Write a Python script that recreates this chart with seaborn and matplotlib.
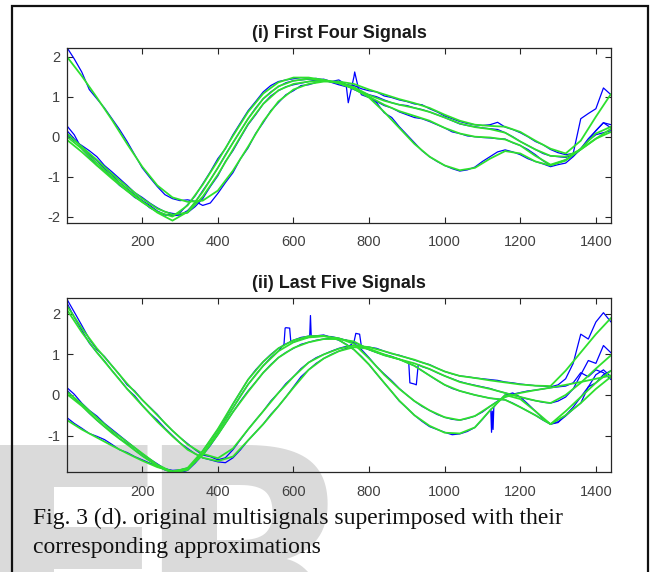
import matplotlib
matplotlib.use("Agg")
import matplotlib.pyplot as plt
import seaborn as sns
import pandas as pd
from matplotlib.patches import Rectangle

# ---------------- data ----------------
X_BLUE = [1] + list(range(20, 1441, 20))      # sample positions of the noisy signals
X_GREEN = [1] + list(range(40, 1441, 40))     # sample positions of the approximations
XTICKS = [200, 400, 600, 800, 1000, 1200, 1400]
TOP_YTICKS = [-2, -1, 0, 1, 2]
BOT_YTICKS = [-1, 0, 1, 2]
TOP_TITLE = "(i) First Four Signals"
BOT_TITLE = "(ii) Last Five Signals"
CAPTION_1 = "Fig. 3 (d). original multisignals superimposed with their"
CAPTION_2 = "corresponding approximations"
WATERMARK_1 = "E"
WATERMARK_2 = "R"

# ---- first four signals (blue, original) ----
top_sig_a = [2.23, 1.95, 1.62, 1.18, 0.95, 0.72, 0.45, 0.18, -0.12, -0.45,
             -0.78, -1.02, -1.25, -1.45, -1.55, -1.6, -1.58, -1.62, -1.72, -1.66,
             -1.42, -1.15, -0.9, -0.55, -0.28, 0.08, 0.35, 0.65, 0.85, 1.05,
             1.15, 1.28, 1.3, 1.36, 1.4, 1.38, 1.42, 1.3, 1.28, 1.2,
             1.15, 1.12, 1.02, 0.98, 0.92, 0.88, 0.82, 0.8, 0.7, 0.62,
             0.52, 0.45, 0.38, 0.33, 0.3, 0.28, 0.3, 0.36, 0.24, 0.18,
             0.1, 0.0, -0.12, -0.2, -0.32, -0.4, -0.45, -0.42, 0.45, 0.58,
             0.7, 1.22, 1.05]
top_sig_b = [0.27, 0.05, -0.3, -0.5, -0.72, -0.85, -1.02, -1.22, -1.35, -1.52,
             -1.62, -1.78, -1.88, -1.96, -1.95, -1.9, -1.7, -1.48, -1.18, -0.88,
             -0.55, -0.3, 0.05, 0.35, 0.65, 0.88, 1.12, 1.28, 1.38, 1.42,
             1.45, 1.48, 1.46, 1.42, 1.44, 1.38, 1.32, 1.28, 1.18, 1.1,
             1.0, 0.85, 0.6, 0.48, 0.25, 0.05, -0.15, -0.35, -0.5, -0.62,
             -0.72, -0.8, -0.86, -0.83, -0.76, -0.62, -0.5, -0.38, -0.33, -0.38,
             -0.45, -0.55, -0.62, -0.68, -0.75, -0.7, -0.66, -0.5, -0.3, -0.05,
             0.15, 0.35, 0.22]
top_sig_c = [0.15, -0.05, -0.25, -0.45, -0.6, -0.8, -0.95, -1.15, -1.3, -1.45,
             -1.6, -1.72, -1.86, -1.95, -1.98, -1.96, -1.85, -1.65, -1.35, -1.08,
             -0.78, -0.45, -0.15, 0.15, 0.45, 0.72, 0.95, 1.12, 1.25, 1.35,
             1.4, 1.42, 1.44, 1.46, 1.42, 1.36, 1.3, 1.25, 1.5, 1.05,
             0.98, 0.88, 0.78, 0.72, 0.62, 0.55, 0.48, 0.45, 0.38, 0.3,
             0.22, 0.12, 0.08, 0.02, 0.0, -0.02, -0.03, -0.05, -0.06, -0.15,
             -0.22, -0.32, -0.45, -0.6, -0.72, -0.65, -0.58, -0.48, -0.32, -0.1,
             0.05, 0.1, 0.15]
top_sig_d = [0.05, -0.1, -0.22, -0.35, -0.5, -0.72, -0.88, -1.05, -1.22, -1.4,
             -1.52, -1.66, -1.78, -1.88, -1.92, -1.95, -1.9, -1.75, -1.55, -1.25,
             -0.98, -0.62, -0.35, -0.02, 0.3, 0.55, 0.82, 1.02, 1.15, 1.25,
             1.3, 1.34, 1.38, 1.42, 1.4, 1.38, 1.36, 1.3, 1.24, 1.12,
             1.05, 1.0, 0.92, 0.85, 0.8, 0.78, 0.72, 0.68, 0.62, 0.55,
             0.48, 0.4, 0.32, 0.28, 0.25, 0.22, 0.2, 0.18, 0.1, 0.0,
             -0.12, -0.22, -0.32, -0.42, -0.48, -0.5, -0.52, -0.45, -0.3, -0.1,
             0.15, 0.35, 0.3]
# short glitches that fall between the regular samples
top_glitch_c_x = [745, 762, 772]
top_glitch_c_y = [0.85, 1.62, 1.2]

# ---- first four signals (green, approximations) ----
top_apx_a = [2.0, 1.52, 0.98, 0.42, -0.18, -0.75, -1.22, -1.52, -1.63, -1.6,
             -1.35, -0.85, -0.25, 0.38, 0.88, 1.18, 1.32, 1.38, 1.38, 1.32,
             1.18, 1.06, 0.94, 0.84, 0.72, 0.55, 0.4, 0.3, 0.27, 0.25,
             0.12, -0.1, -0.3, -0.42, -0.1, 0.5, 1.07]
top_apx_b = [-0.08, -0.38, -0.72, -1.05, -1.36, -1.64, -1.88, -2.0, -1.72, -1.2,
             -0.6, 0.02, 0.62, 1.08, 1.36, 1.48, 1.48, 1.42, 1.34, 1.2,
             0.98, 0.62, 0.22, -0.18, -0.5, -0.72, -0.84, -0.78, -0.55, -0.36,
             -0.42, -0.62, -0.72, -0.6, -0.3, 0.08, 0.25]
top_apx_c = [0.0, -0.3, -0.66, -1.0, -1.32, -1.62, -1.9, -2.1, -1.88, -1.38,
             -0.78, -0.15, 0.45, 0.95, 1.26, 1.4, 1.45, 1.42, 1.34, 1.2,
             1.0, 0.8, 0.64, 0.52, 0.4, 0.22, 0.08, 0.0, -0.02, -0.07,
             -0.22, -0.48, -0.7, -0.58, -0.32, -0.05, 0.12]
top_apx_d = [0.08, -0.25, -0.58, -0.93, -1.25, -1.55, -1.8, -1.95, -1.9, -1.5,
             -0.95, -0.32, 0.32, 0.82, 1.16, 1.32, 1.38, 1.4, 1.36, 1.24,
             1.04, 0.9, 0.8, 0.72, 0.62, 0.48, 0.33, 0.24, 0.19, 0.1,
             -0.12, -0.32, -0.48, -0.5, -0.32, -0.05, 0.2]

# ---- last five signals (blue, original) ----
bot_sig_e = [2.36, 2.05, 1.72, 1.38, 1.12, 0.95, 0.72, 0.5, 0.25, 0.1,
             -0.12, -0.3, -0.48, -0.7, -0.88, -1.05, -1.2, -1.35, -1.48, -1.52,
             -1.6, -1.55, -1.35, -1.1, -0.85, -0.62, -0.4, -0.15, 0.05, 0.28,
             0.45, 0.65, 0.8, 0.92, 1.0, 1.08, 1.15, 1.2, 1.22, 1.2,
             1.18, 1.15, 1.08, 1.02, 0.98, 0.92, 0.86, 0.8, 0.75, 0.66,
             0.58, 0.52, 0.47, 0.45, 0.42, 0.4, 0.38, 0.36, 0.32, 0.3,
             0.27, 0.25, 0.23, 0.22, 0.2, 0.25, 0.4, 0.78, 1.5, 1.38,
             1.8, 2.03, 1.8]
bot_sig_f = [2.27, 1.92, 1.6, 1.28, 1.05, 0.84, 0.6, 0.38, 0.15, -0.02,
             -0.25, -0.45, -0.62, -0.82, -1.0, -1.18, -1.32, -1.45, -1.55, -1.6,
             -1.65, -1.67, -1.55, -1.35, -1.12, -0.92, -0.72, -0.48, -0.28, -0.05,
             0.2, 0.45, 0.62, 0.78, 0.9, 1.0, 1.08, 1.15, 1.3, 1.18,
             1.12, 1.05, 1.0, 0.95, 0.88, 0.82, 0.27, 0.7, 0.64, 0.55,
             0.47, 0.4, 0.33, 0.28, 0.24, 0.2, 0.16, 0.1, 0.05, 0.0,
             -0.05, -0.1, -0.14, -0.18, -0.2, -0.15, -0.05, 0.15, 0.5, 0.85,
             0.78, 1.22, 1.04]
bot_sig_g = [0.18, 0.02, -0.2, -0.38, -0.52, -0.7, -0.85, -1.0, -1.15, -1.3,
             -1.45, -1.58, -1.7, -1.82, -1.88, -1.9, -1.82, -1.62, -1.38, -1.12,
             -0.85, -0.55, -0.22, 0.08, 0.38, 0.62, 0.82, 1.0, 1.15, 1.26,
             1.35, 1.42, 1.45, 1.46, 1.48, 1.42, 1.35, 1.25, 1.12, 0.95,
             0.75, 0.52, 0.3, 0.08, -0.15, -0.32, -0.5, -0.65, -0.78, -0.85,
             -0.92, -0.98, -0.96, -0.9, -0.8, -0.6, -0.38, -0.18, 0.0, 0.05,
             -0.05, -0.22, -0.4, -0.58, -0.72, -0.68, -0.5, -0.3, -0.05, 0.2,
             0.5, 0.62, 0.45]
bot_sig_h = [0.12, -0.08, -0.25, -0.45, -0.62, -0.78, -0.92, -1.08, -1.2, -1.36,
             -1.5, -1.62, -1.75, -1.85, -1.9, -1.92, -1.86, -1.68, -1.46, -1.2,
             -0.92, -0.62, -0.32, -0.02, 0.26, 0.5, 0.72, 0.92, 1.08, 1.66,
             1.3, 1.38, 1.42, 1.44, 1.45, 1.44, 1.4, 1.35, 1.28, 1.12,
             0.92, 0.7, 0.52, 0.35, 0.16, 0.0, -0.15, -0.28, -0.38, -0.48,
             -0.55, -0.6, -0.62, -0.58, -0.52, -0.42, -0.28, -0.15, -0.05, 0.02,
             0.06, 0.1, 0.12, 0.15, 0.18, 0.2, 0.22, 0.3, 0.55, 0.45,
             0.62, 0.55, 0.38]
bot_sig_i = [-0.56, -0.7, -0.82, -0.95, -1.02, -1.1, -1.22, -1.35, -1.42, -1.52,
             -1.6, -1.68, -1.76, -1.82, -1.86, -1.85, -1.8, -1.66, -1.48, -1.25,
             -0.98, -0.7, -0.42, -0.15, 0.1, 0.32, 0.55, 0.75, 0.92, 1.05,
             1.15, 1.25, 1.3, 1.35, 1.38, 1.4, 1.38, 1.35, 1.3, 1.22,
             1.12, 1.05, 0.98, 0.93, 0.88, 0.8, 0.72, 0.6, 0.48, 0.36,
             0.25, 0.16, 0.1, 0.05, 0.0, -0.04, -0.08, -0.1, -0.12, -0.2,
             -0.3, -0.4, -0.5, -0.62, -0.72, -0.66, -0.52, -0.35, -0.2, 0.2,
             0.3, 0.5, 0.6]
bot_glitch_f_x = [765, 775, 905, 908, 925, 930]
bot_glitch_f_y = [1.52, 1.5, 0.8, 0.3, 0.25, 0.75]
bot_glitch_g_x = [643, 645, 647, 1122, 1124, 1126, 1128, 1130]
bot_glitch_g_y = [1.45, 1.96, 1.45, -0.35, -0.92, -0.4, -0.85, -0.3]
bot_glitch_h_x = [575, 578, 590, 593]
bot_glitch_h_y = [1.25, 1.65, 1.65, 1.32]

# ---- last five signals (green, approximations) ----
bot_apx_e = [2.2, 1.65, 1.15, 0.72, 0.28, -0.12, -0.5, -0.88, -1.22, -1.45,
             -1.56, -1.32, -0.85, -0.4, 0.05, 0.45, 0.8, 1.0, 1.14, 1.22,
             1.18, 1.08, 0.97, 0.87, 0.74, 0.58, 0.47, 0.42, 0.36, 0.31,
             0.26, 0.23, 0.22, 0.6, 1.05, 1.5, 1.9]
bot_apx_f = [2.1, 1.55, 1.05, 0.6, 0.15, -0.26, -0.66, -1.02, -1.35, -1.55,
             -1.63, -1.52, -1.12, -0.72, -0.28, 0.18, 0.62, 0.9, 1.08, 1.18,
             1.14, 1.0, 0.88, 0.78, 0.64, 0.47, 0.32, 0.23, 0.15, 0.05,
             -0.05, -0.14, -0.2, 0.0, 0.3, 0.65, 0.98]
bot_apx_g = [0.08, -0.22, -0.56, -0.88, -1.16, -1.44, -1.72, -1.9, -1.8, -1.38,
             -0.84, -0.22, 0.38, 0.82, 1.15, 1.35, 1.45, 1.46, 1.36, 1.12,
             0.75, 0.3, -0.14, -0.5, -0.76, -0.93, -0.95, -0.8, -0.38, 0.0,
             -0.1, -0.4, -0.72, -0.4, -0.05, 0.3, 0.6]
bot_apx_h = [0.02, -0.27, -0.62, -0.94, -1.22, -1.5, -1.76, -1.92, -1.85, -1.45,
             -0.92, -0.32, 0.26, 0.72, 1.08, 1.3, 1.42, 1.45, 1.4, 1.26,
             0.9, 0.5, 0.15, -0.15, -0.38, -0.55, -0.62, -0.52, -0.28, -0.05,
             0.05, 0.12, 0.18, 0.25, 0.32, 0.4, 0.48]
bot_apx_i = [-0.62, -0.85, -1.05, -1.25, -1.44, -1.62, -1.78, -1.88, -1.82, -1.48,
             -0.98, -0.42, 0.08, 0.55, 0.92, 1.16, 1.3, 1.38, 1.38, 1.32,
             1.12, 0.98, 0.88, 0.72, 0.48, 0.25, 0.1, 0.0, -0.08, -0.12,
             -0.3, -0.5, -0.72, -0.5, -0.2, 0.15, 0.45]

# ---------------- styling ----------------
BLUE = "#0000ff"
GREEN = "#2ee02e"
SANS = "Liberation Sans"
SERIF = "Liberation Serif"

sns.set_style("ticks")
plt.rcParams["font.family"] = [SANS, "DejaVu Sans"]

W, H = 653, 572
fig = plt.figure(figsize=(W / 100, H / 100), dpi=100)
fig.patch.set_facecolor("white")


def series_frame(xs, ys, gx=None, gy=None):
    xx = list(xs) + (list(gx) if gx else [])
    yy = list(ys) + (list(gy) if gy else [])
    return pd.DataFrame({"x": xx, "y": yy}).sort_values("x")


def draw_panel(ax, blues, greens, title, yticks, ylim):
    for ys, gx, gy in blues:
        assert len(ys) == len(X_BLUE)
        d = series_frame(X_BLUE, ys, gx, gy)
        sns.lineplot(data=d, x="x", y="y", ax=ax, color=BLUE, lw=0.9,
                     estimator=None, sort=False, legend=False)
    for ys in greens:
        assert len(ys) == len(X_GREEN)
        d = series_frame(X_GREEN, ys)
        sns.lineplot(data=d, x="x", y="y", ax=ax, color=GREEN, lw=1.3,
                     estimator=None, sort=False, legend=False)
    ax.set_xlim(1, 1440)
    ax.set_ylim(*ylim)
    ax.set_xticks(XTICKS)
    ax.set_yticks(yticks)
    ax.set_xticklabels([str(t) for t in XTICKS])
    ax.set_yticklabels([str(t) for t in yticks])
    ax.set_xlabel("")
    ax.set_ylabel("")
    ax.set_facecolor("none")
    for s in ax.spines.values():
        s.set_visible(True)
        s.set_color("#262626")
        s.set_linewidth(0.9)
    ax.tick_params(axis="both", direction="in", top=True, right=True,
                   length=4, width=0.8, color="#262626",
                   labelsize=10.5, labelcolor="#404040")
    ax.tick_params(axis="x", pad=9)
    ax.tick_params(axis="y", pad=5)
    ax.set_title(title, fontsize=13, fontweight="bold", color="#1a1a1a",
                 pad=7, family=SANS)


ax1 = fig.add_axes([67 / W, 1 - 223 / H, 544 / W, 175 / H])
ax2 = fig.add_axes([67 / W, 1 - 472 / H, 544 / W, 174.3 / H])

draw_panel(ax1,
           [(top_sig_a, None, None), (top_sig_b, None, None),
            (top_sig_c, top_glitch_c_x, top_glitch_c_y), (top_sig_d, None, None)],
           [top_apx_a, top_apx_b, top_apx_c, top_apx_d],
           TOP_TITLE, TOP_YTICKS, (-2.16, 2.22))
draw_panel(ax2,
           [(bot_sig_e, None, None), (bot_sig_f, bot_glitch_f_x, bot_glitch_f_y),
            (bot_sig_g, bot_glitch_g_x, bot_glitch_g_y),
            (bot_sig_h, bot_glitch_h_x, bot_glitch_h_y), (bot_sig_i, None, None)],
           [bot_apx_e, bot_apx_f, bot_apx_g, bot_apx_h, bot_apx_i],
           BOT_TITLE, BOT_YTICKS, (-1.9, 2.4))

# faint watermark letters behind everything (cropped by the picture edge)
WM = dict(fontsize=211, fontweight="bold", color="#dadada", family="DejaVu Sans",
          ha="left", va="baseline", zorder=-10)
fig.text(-29 / W, 1 - 659 / H, WATERMARK_1, **WM)
fig.text(134 / W, 1 - 659 / H, WATERMARK_2, **WM)

# caption
fig.text(33 / W, 1 - 518 / H, CAPTION_1, fontsize=17, family=SERIF,
         color="#111111", ha="left", va="center")
fig.text(33 / W, 1 - 547 / H, CAPTION_2, fontsize=17, family=SERIF,
         color="#111111", ha="left", va="center")

# outer frame
fig.add_artist(Rectangle((12 / W, -0.02), (648 - 12) / W, 1 - 6 / H + 0.02,
                         transform=fig.transFigure, fill=False,
                         lw=1.6, ec="#111111", zorder=5))

fig.savefig("out.png", dpi=100)
